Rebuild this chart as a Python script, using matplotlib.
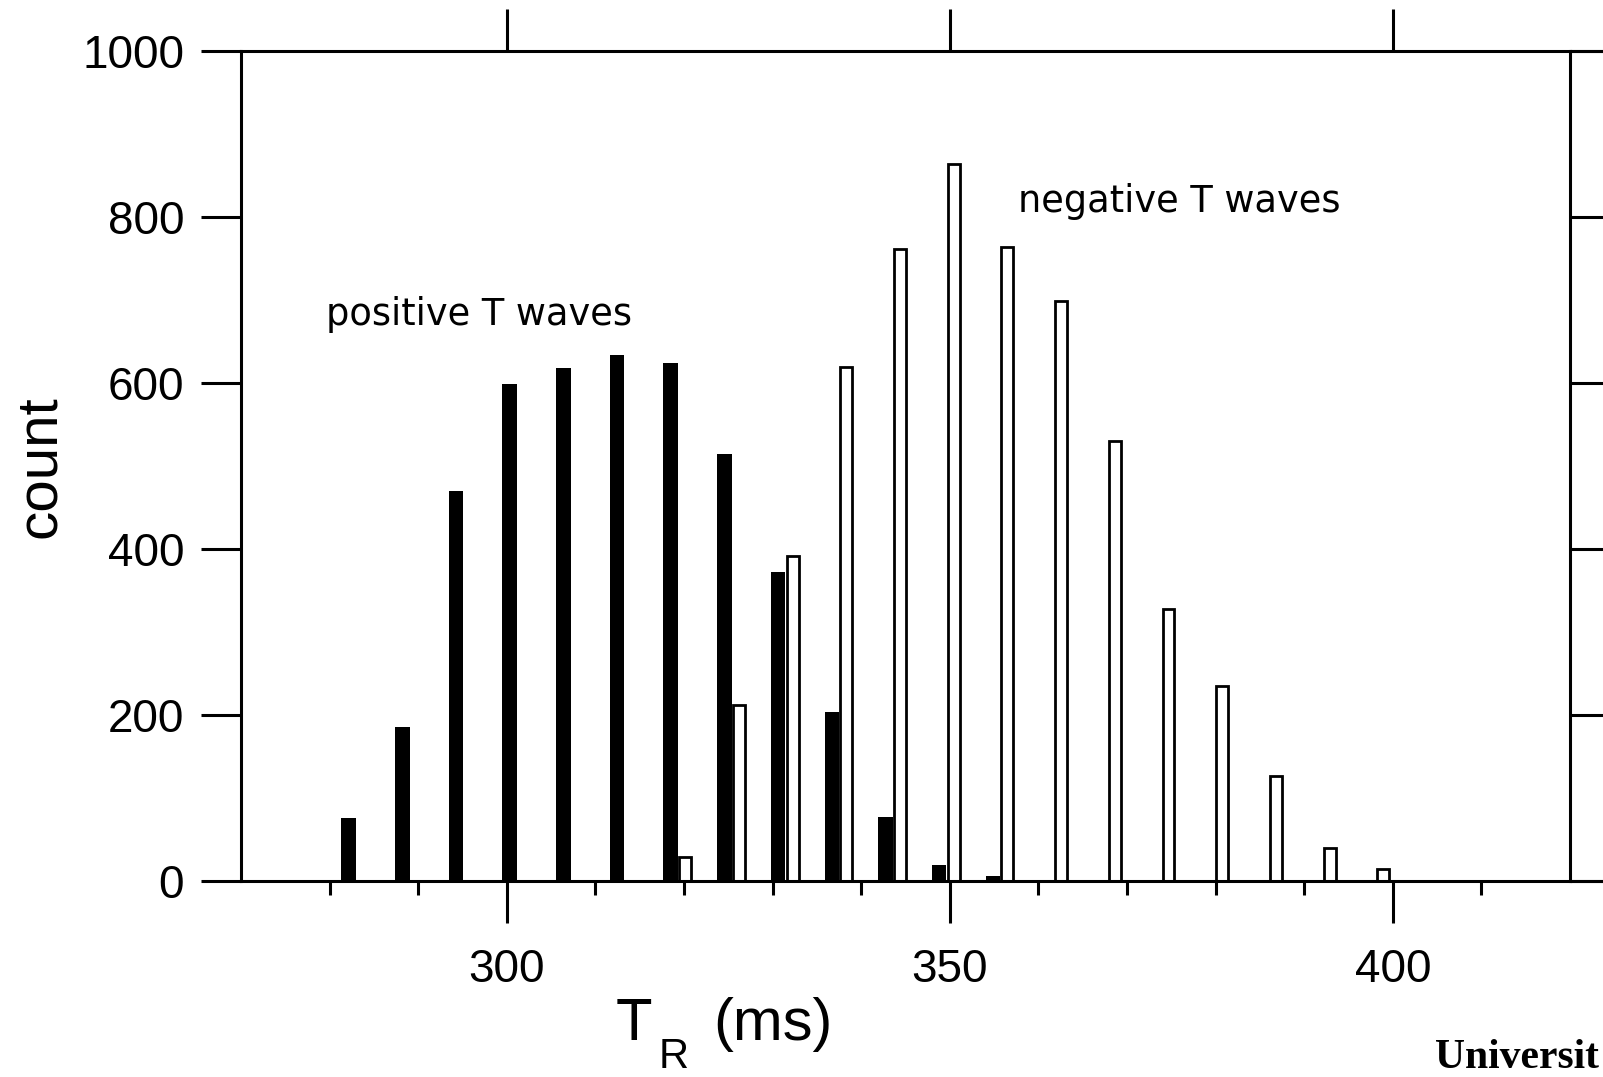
import matplotlib
matplotlib.use("Agg")
import matplotlib.pyplot as plt
from matplotlib.ticker import FixedLocator

# Histogram of T_R for positive and negative T waves (6 ms bins)
bin_edges = [282.96, 289.02, 295.08, 301.14, 307.20, 313.26, 319.32, 325.38,
             331.44, 337.50, 343.56, 349.62, 355.68, 361.74, 367.80, 373.86,
             379.92, 385.98, 392.04, 398.10]
positive_counts = [76, 186, 470, 598, 618, 633, 624, 514, 372, 204, 77, 19, 6]
negative_counts = [29, 212, 391, 619, 761, 864, 764, 698, 530, 328, 235, 127, 40, 15]
neg_first_bin = 6

y_ticks = [0, 200, 400, 600, 800, 1000]
x_major = [300, 350, 400]
x_minor = [280, 290, 310, 320, 330, 340, 360, 370, 380, 390, 410]

W, H = 1603, 1077
fig = plt.figure(figsize=(W / 100, H / 100), dpi=100)
ax = fig.add_axes([241 / W, (H - 881) / H, (1570 - 241) / W, (881 - 50.7) / H])

LW = 2.2
pos_x = bin_edges[:len(positive_counts)]
neg_x = [e + 0.15 for e in bin_edges[neg_first_bin:neg_first_bin + len(negative_counts)]]

ax.bar(neg_x, negative_counts, width=1.35, align="edge", facecolor="white",
       edgecolor="black", linewidth=2.0, zorder=2)
ax.bar(pos_x, positive_counts, width=-1.64, align="edge", color="black",
       linewidth=0, zorder=3)

ax.set_xlim(270, 420)
ax.set_ylim(0, 1000)

for s in ax.spines.values():
    s.set_linewidth(LW)

ax.xaxis.set_major_locator(FixedLocator(x_major))
ax.xaxis.set_minor_locator(FixedLocator(x_minor))
ax.yaxis.set_major_locator(FixedLocator(y_ticks))

tick_font = "Liberation Sans"
ax.tick_params(axis="x", which="major", direction="out", length=30, width=LW,
               top=True, bottom=True, labelsize=33, pad=18)
ax.tick_params(axis="x", which="minor", direction="out", length=10, width=LW,
               top=False, bottom=True)
ax.tick_params(axis="y", which="major", direction="out", length=29, width=LW,
               left=True, right=True, labelright=False, labelsize=33, pad=12)
for lab in ax.get_xticklabels() + ax.get_yticklabels():
    lab.set_fontfamily(tick_font)

# frame lines continuing past the right-hand spine
for yy in (0, 1):
    ax.plot([1, 1.1], [yy, yy], transform=ax.transAxes, color="black",
            lw=LW, clip_on=False, solid_capstyle="butt")

ax.text(279.6, 669.6, "positive T waves", fontsize=26.5, family="DejaVu Sans",
        va="baseline", ha="left")
ax.text(357.7, 806.1, "negative T waves", fontsize=26.5, family="DejaVu Sans",
        va="baseline", ha="left")

# axis labels
fig.text(55 / W, 1 - 466.7 / H, "count", rotation=90, fontsize=42,
         family=tick_font, ha="center", va="baseline", rotation_mode="anchor")
fig.text(616 / W, 1 - 1040 / H, "T", fontsize=43, family=tick_font,
         ha="left", va="baseline")
fig.text(659 / W, 0.5 / H, "R", fontsize=30, family=tick_font,
         ha="left", va="bottom")
fig.text(713 / W, 1 - 1040 / H, "(ms)", fontsize=43, family=tick_font,
         ha="left", va="baseline")

fig.text(1435 / W, 0.5 / H, "Universit", fontsize=30,
         family="Liberation Serif", weight="bold", ha="left", va="bottom")

fig.savefig("out.png", dpi=100)
